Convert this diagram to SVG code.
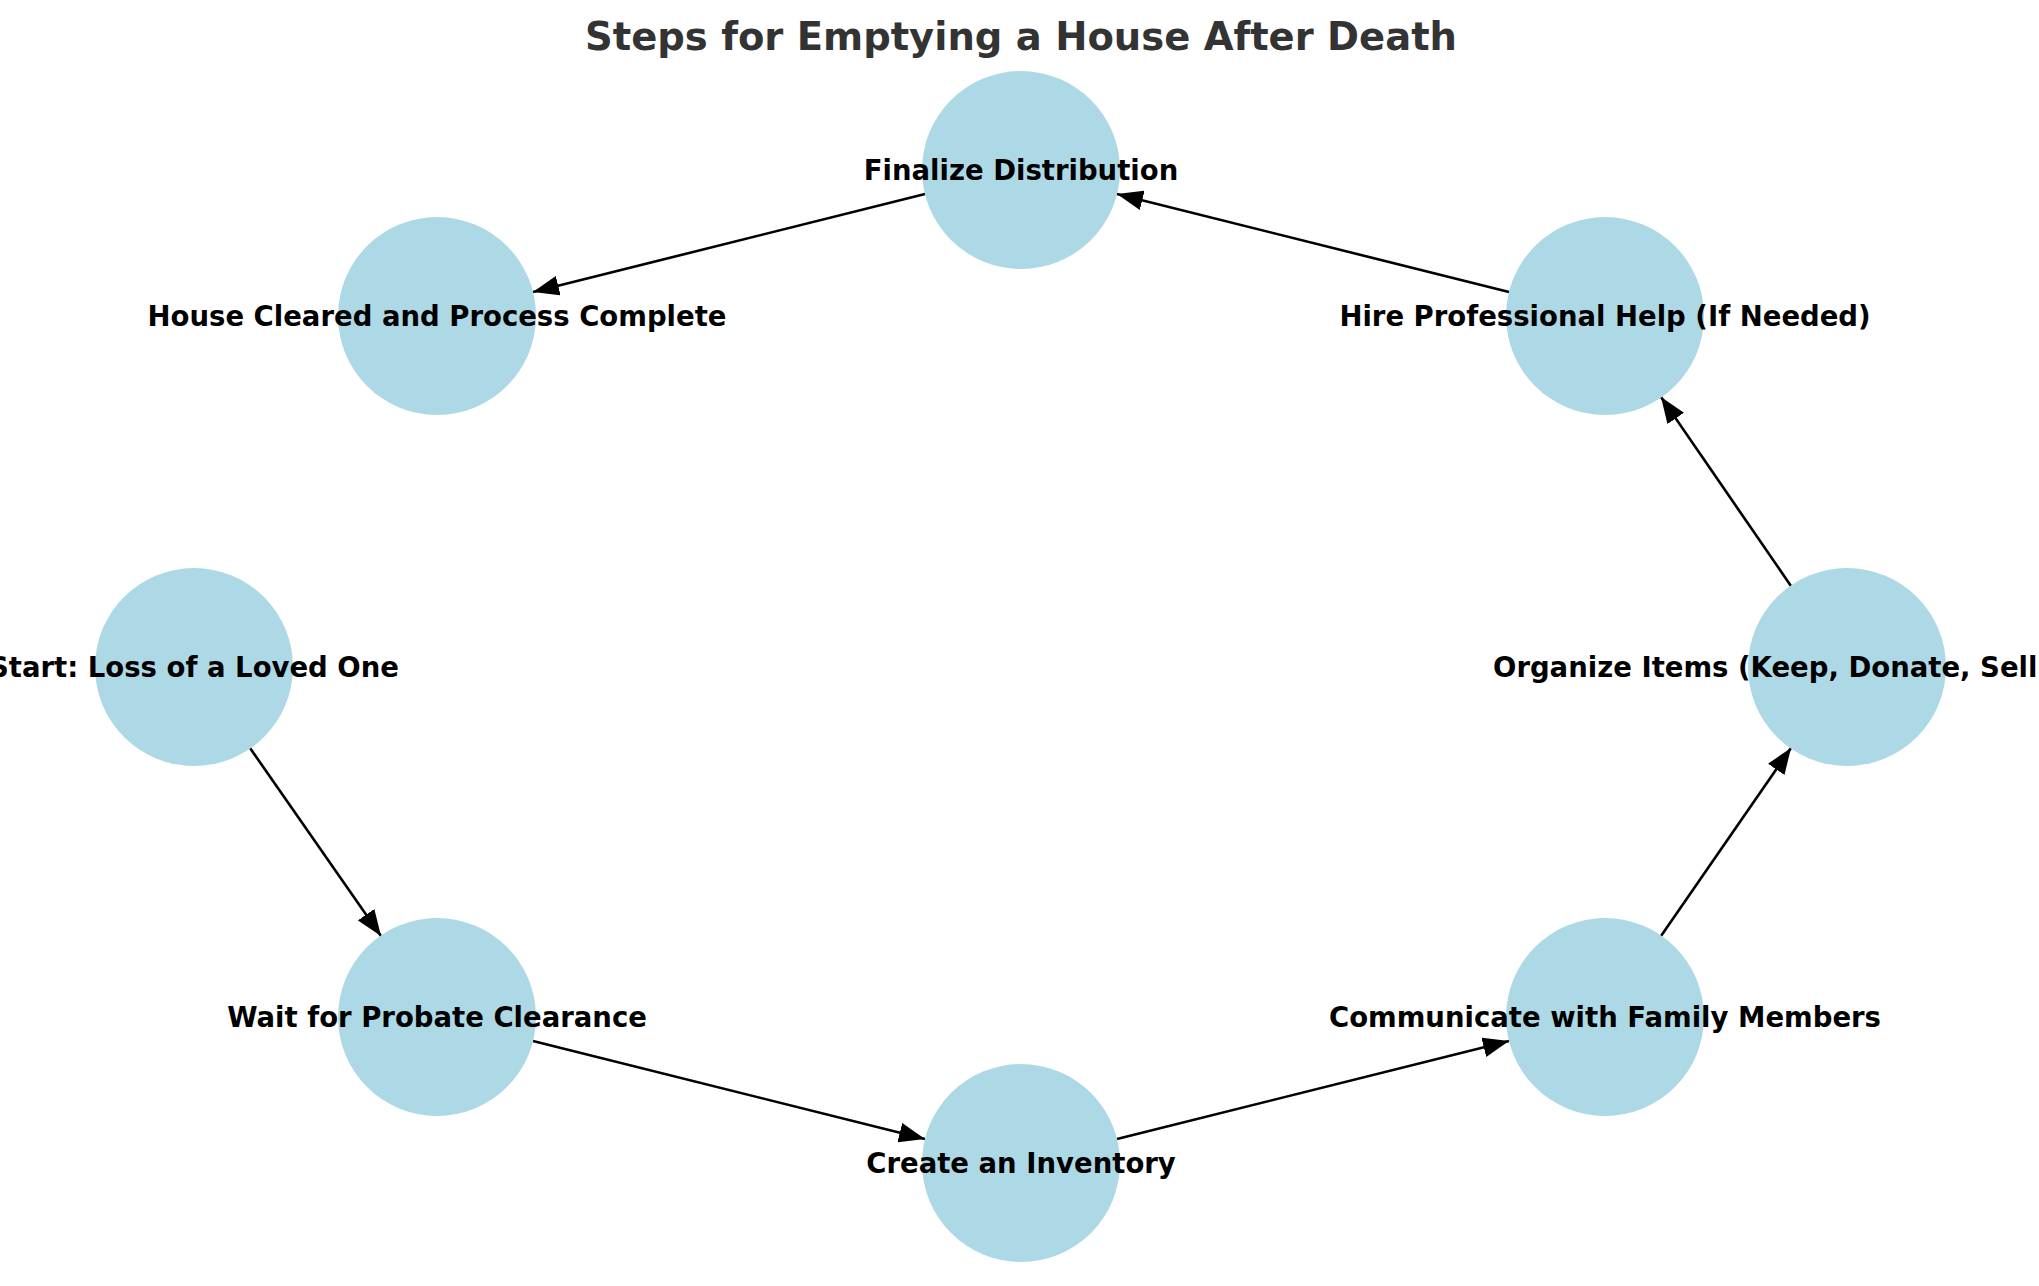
<svg xmlns="http://www.w3.org/2000/svg" width="2039" height="1286" viewBox="0 0 2039 1286">
<style>
.n{fill:#add8e6}
.l{font-family:"DejaVu Sans",sans-serif;font-weight:bold;font-size:27.5px;fill:#000;text-anchor:middle;dominant-baseline:central}
.e{stroke:#000;stroke-width:2.6;fill:none;marker-end:url(#a)}
</style>
<defs><marker id="a" markerWidth="26" markerHeight="20" refX="26" refY="10" orient="auto" markerUnits="userSpaceOnUse"><path d="M0,0L26,10L0,20z" fill="#000"/></marker></defs>
<rect width="2039" height="1286" fill="#fff"/>
<text x="1021" y="36" font-family="DejaVu Sans,sans-serif" font-weight="bold" font-size="38.5" fill="#333" text-anchor="middle" dominant-baseline="central">Steps for Emptying a House After Death</text>
<g id="edges">
<line class="e" x1="250" y1="748" x2="381" y2="936"/>
<line class="e" x1="533" y1="1041" x2="925" y2="1139"/>
<line class="e" x1="1117" y1="1139" x2="1509" y2="1041"/>
<line class="e" x1="1661" y1="936" x2="1791" y2="748"/>
<line class="e" x1="1791" y1="586" x2="1661" y2="397"/>
<line class="e" x1="1509" y1="292" x2="1117" y2="194"/>
<line class="e" x1="925" y1="194" x2="533" y2="292"/>
</g>
<g id="start"><circle class="n" cx="194" cy="667" r="99"/><text class="l" x="194" y="667">Start: Loss of a Loved One</text></g>
<g id="wait"><circle class="n" cx="437" cy="1017" r="99"/><text class="l" x="437" y="1017">Wait for Probate Clearance</text></g>
<g id="create"><circle class="n" cx="1021" cy="1163" r="99"/><text class="l" x="1021" y="1163">Create an Inventory</text></g>
<g id="communicate"><circle class="n" cx="1605" cy="1017" r="99"/><text class="l" x="1605" y="1017">Communicate with Family Members</text></g>
<g id="organize"><circle class="n" cx="1847" cy="667" r="99"/><text class="l" x="1493" y="667" style="text-anchor:start">Organize Items (Keep, Donate, Sell)</text></g>
<g id="hire"><circle class="n" cx="1605" cy="316" r="99"/><text class="l" x="1605" y="316">Hire Professional Help (If Needed)</text></g>
<g id="finalize"><circle class="n" cx="1021" cy="170" r="99"/><text class="l" x="1021" y="170">Finalize Distribution</text></g>
<g id="house"><circle class="n" cx="437" cy="316" r="99"/><text class="l" x="437" y="316">House Cleared and Process Complete</text></g>
</svg>
